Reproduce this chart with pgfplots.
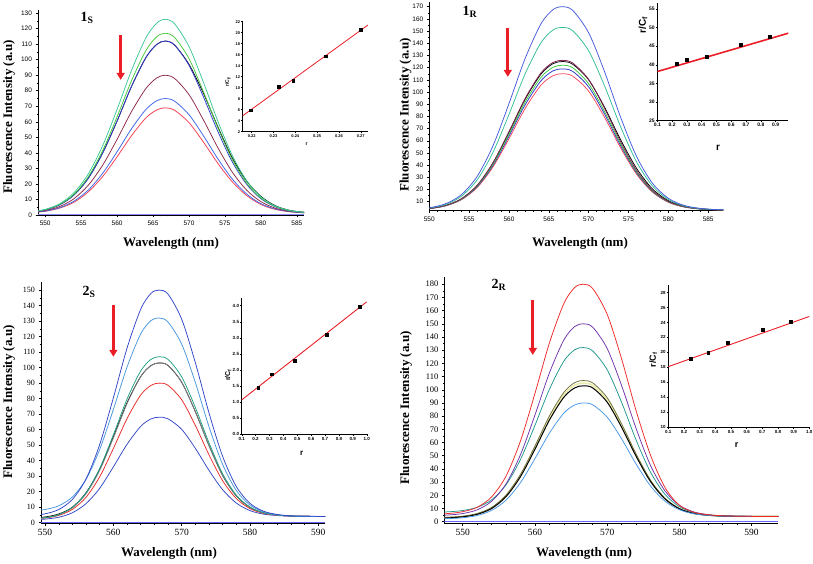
\documentclass[border=0pt]{standalone}
\usepackage{fontspec}
\setmainfont{Liberation Serif}
\setsansfont{Liberation Sans}
\usepackage{pgfplots}
\pgfplotsset{compat=1.18}
\usepackage{pgfplotstable}
\usetikzlibrary{arrows.meta}

% colours
\definecolor{sA}{RGB}{60,200,150}
\definecolor{sB}{RGB}{70,200,60}
\definecolor{sC}{RGB}{50,60,210}
\definecolor{sD}{RGB}{140,40,70}
\definecolor{sE}{RGB}{60,100,230}
\definecolor{sF}{RGB}{245,60,80}
\definecolor{rA}{RGB}{70,90,220}
\definecolor{rB}{RGB}{50,190,150}
\definecolor{rC}{RGB}{130,30,80}
\definecolor{rE}{RGB}{60,200,60}
\definecolor{rF}{RGB}{40,50,200}
\definecolor{rG}{RGB}{250,70,90}
\definecolor{tA}{RGB}{50,70,200}
\definecolor{tB}{RGB}{70,150,220}
\definecolor{tC}{RGB}{30,160,130}
\definecolor{tD}{RGB}{130,130,130}
\definecolor{tF}{RGB}{235,40,40}
\definecolor{uA}{RGB}{240,40,40}
\definecolor{uB}{RGB}{110,50,170}
\definecolor{uC}{RGB}{30,150,140}
\definecolor{uD}{RGB}{110,110,60}
\definecolor{uY}{RGB}{235,235,170}
\definecolor{uF}{RGB}{70,150,230}
\definecolor{fit}{RGB}{235,30,40}

% 1S spectra
\pgfplotstableread{
x A B K C D E F
548 2.0 1.9 1.9 1.9 1.7 1.6 1.5
550 3.6 3.4 3.3 3.3 2.9 2.5 2.4
552 7.2 6.8 6.6 6.5 5.4 4.7 4.4
554 14.3 13.3 12.9 12.8 10.5 8.9 8.2
556 26.5 24.7 23.8 23.6 19.2 16.1 14.9
558 44.7 41.5 40.1 39.8 32.1 26.9 24.8
560 68.0 63.2 60.5 60.5 48.7 40.7 37.5
562 93.0 86.4 82.7 82.7 66.5 55.5 51.0
564 114.0 105.8 101.3 101.3 81.4 67.9 62.5
565.5 123.5 114.7 109.8 109.8 88.2 73.5 67.6
566.7 126 117 112 112 90 75 69
568 123.1 114.3 109.4 109.4 87.9 73.3 67.4
570 108.5 100.7 97.0 96.4 77.5 64.6 59.5
572 85.6 79.5 78.5 76.2 61.3 51.1 47.0
574 60.6 56.3 57.0 54.0 43.5 36.3 33.4
576 38.6 35.9 37.0 34.4 27.8 23.3 21.5
578 22.3 20.7 22.0 19.9 16.1 13.6 12.6
580 11.7 10.9 12.0 10.5 8.6 7.3 6.8
582 5.8 5.5 6.0 5.3 4.4 3.9 3.6
584 3.0 2.8 3.0 2.7 2.4 2.2 2.1
586 1.7 1.7 1.8 1.6 1.5 1.4 1.4
588 1.2 1.2 1.2 1.2 1.2 1.1 1.1
}\tabOneS

% 1R spectra
\pgfplotstableread{
x A B C K E F G
548 3.7 3.6 3.5 3.5 3.5 3.5 3.5
550 5.0 4.8 4.4 4.4 4.4 4.4 4.3
552 8.2 7.6 6.8 6.8 6.7 6.6 6.5
554 15.6 14.3 12.3 12.2 12.0 11.8 11.5
556 30.7 27.9 23.4 23.2 22.7 22.2 21.6
558 56.0 50.6 42.1 41.8 40.8 39.8 38.6
560 90.5 81.6 67.5 66.9 65.4 63.8 61.7
562 127.1 114.5 94.4 93.7 91.4 89.2 86.2
564 155.8 140.3 115.6 114.6 111.9 109.1 105.5
565.5 167.5 150.8 124.2 123.2 120.2 117.3 113.3
566.7 170 153 126 125 122 119 115
568 167.0 150.3 123.8 122.8 119.9 116.9 113.0
570 148.6 133.8 110.3 110.0 106.8 104.2 100.7
572 116.6 105.0 86.6 87.5 83.9 81.9 79.2
574 79.5 71.7 59.3 61.0 57.5 56.1 54.3
576 47.3 42.8 35.7 37.5 34.6 33.8 32.7
578 25.2 23.0 19.4 20.5 18.8 18.4 17.9
580 12.8 11.8 10.2 10.8 9.9 9.8 9.5
582 6.9 6.5 5.9 6.2 5.8 5.7 5.6
584 4.5 4.3 4.1 4.2 4.0 4.0 4.0
586 3.5 3.5 3.4 3.4 3.4 3.4 3.3
588 3.2 3.2 3.1 3.1 3.1 3.1 3.1
}\tabOneR

% 2S (H*) and 2R (R*) spectra
\pgfplotstableread{
x H1 H2 H3 H4 H5 H6 H7 R1 R2 R4 RY R5
546 4.2 7.2 2.1 2.1 2.6 2.1 1.6 5.7 4.7 3.1 2.8 2.6
548 4.6 7.5 2.4 2.4 2.9 2.4 1.8 6.2 5.1 3.4 3.2 2.9
550 5.7 8.5 3.2 3.2 3.7 3.0 2.3 7.6 6.2 4.2 4.0 3.7
552 8.5 10.9 5.2 5.1 5.6 4.7 3.5 10.9 9.0 6.2 5.9 5.6
554 15.0 16.6 9.9 9.6 10.0 8.6 6.4 18.8 15.5 10.8 10.4 10.0
556 28.2 28.0 19.2 18.6 19.3 16.4 12.3 34.6 28.7 20.2 19.6 19.0
558 50.4 47.2 35.0 33.7 34.5 29.6 22.2 61.2 50.8 35.9 35.1 34.2
560 80.5 73.0 56.7 54.6 55.4 47.8 36.0 97.2 80.8 57.3 56.1 54.9
562 112.5 100.3 79.7 76.7 77.3 67.1 50.5 135.4 112.7 80.1 78.6 77.0
564 137.6 121.7 97.8 94.2 94.2 82.3 62.1 165.3 137.7 98.0 96.2 94.3
565.5 147.8 130.3 105.3 101.3 101.3 88.5 66.9 177.5 147.9 105.4 103.4 101.4
566.7 150 132 107 103 103 90 68 180 150 107 105 103
568 147.4 129.4 105.3 101.4 101.4 88.6 67.0 176.7 147.4 105.2 103.3 101.4
570 131.3 115.2 94.1 90.6 90.6 79.3 60.2 157.2 131.3 94.0 92.3 90.6
572 103.3 90.5 74.4 71.7 71.7 62.8 48.0 123.4 103.2 74.2 72.9 71.6
574 70.9 62.0 51.6 49.8 49.8 43.8 33.8 84.3 70.8 51.4 50.6 49.7
576 42.8 37.6 31.6 30.5 30.5 27.1 21.3 50.5 42.7 31.5 31.0 30.5
578 23.4 20.8 17.8 17.3 17.3 15.6 12.7 26.0 23.4 17.8 17.6 17.3
580 12.5 11.4 10.1 9.8 9.8 9.1 7.8 12.5 12.5 10.0 9.9 9.8
582 7.4 7.0 6.4 6.3 6.3 6.0 5.5 7.2 7.4 6.4 6.4 6.3
584 5.3 5.1 4.9 4.9 4.9 4.8 4.6 5.3 5.3 4.9 4.9 4.9
586 4.4 4.4 4.3 4.3 4.3 4.3 4.2 4.5 4.4 4.3 4.3 4.3
588 4.2 4.1 4.1 4.1 4.1 4.1 4.1 4.2 4.2 4.1 4.1 4.1
591 4 4 4 4 4 4 4 4 4 4 4 4
594 4 4 4 4 4 4 4 4 4 4 4 4
}\tabTwo

\pgfplotsset{
  spec/.style={scale only axis, axis x line*=bottom, axis y line*=left,
    tick align=outside, major tick length=2.5pt, minor tick length=1.5pt,
    every tick/.style={black, line width=0.5pt}, axis line style={line width=0.7pt},
    /pgf/number format/assume math mode=true,
    every axis plot/.append style={line width=0.75pt, smooth}},
  inset/.style={scale only axis, axis x line*=bottom, axis y line*=left,
    tick align=outside, major tick length=1.5pt, axis line style={line width=0.6pt},
    every tick/.style={black, line width=0.4pt},
    /pgf/number format/assume math mode=true,
    ticklabel style={font=\fontsize{4}{4}\selectfont\sffamily\bfseries, inner sep=1pt}},
}
\tikzset{arr/.style={fit, line width=2.6pt, -{Triangle[width=8pt,length=7pt]}}}
\newcommand{\ttl}{\fontsize{13}{13}\selectfont\bfseries}
\newcommand{\plab}{\fontsize{14}{14}\selectfont\bfseries}

\begin{document}
\begin{tikzpicture}
\path[use as bounding box] (0pt,0pt) rectangle (813pt,564pt);

% ---------- 1S ----------
\begin{axis}[spec, at={(38pt,349pt)}, width=266pt, height=205pt,
  xmin=549, xmax=586, ymin=0, ymax=132,
  xtick={550,555,...,585}, minor x tick num=4,
  ytick={0,10,...,130}, minor y tick num=1,
  ticklabel style={font=\fontsize{6.5}{6.5}\selectfont\sffamily}]
\addplot[blue!45, line width=0.6pt] coordinates {(549,0.3) (586,0.3)};
\addplot[black] table[x=x,y=K]{\tabOneS};
\addplot[sF] table[x=x,y=F]{\tabOneS};
\addplot[sE] table[x=x,y=E]{\tabOneS};
\addplot[sD] table[x=x,y=D]{\tabOneS};
\addplot[sC] table[x=x,y=C]{\tabOneS};
\addplot[sB] table[x=x,y=B]{\tabOneS};
\addplot[sA] table[x=x,y=A]{\tabOneS};
\draw[arr] (axis cs:560.5,116) -- (axis cs:560.5,87);
\end{axis}
\begin{axis}[inset, at={(242.7pt,432.3pt)}, width=125.3pt, height=110pt,
  xmin=0.2159, xmax=0.2733, ymin=2, ymax=22,
  xtick={0.22,0.23,...,0.27}, ytick={2,4,...,22},
  xticklabel style={/pgf/number format/.cd, fixed, fixed zerofill, precision=2}]
\addplot[fit, line width=0.8pt] coordinates {(0.2159,4.9) (0.2733,21.4)};
\addplot[only marks, mark=square*, mark size=1.3pt, black] coordinates {
(0.2195,5.9) (0.2325,10.2) (0.239,11.3) (0.254,15.7) (0.27,20.5)};
\end{axis}
\node[rotate=90] at (9pt,447pt) {\ttl Fluorescence Intensity (a.u)};
\node at (171pt,321pt) {\ttl Wavelength (nm)};
\node at (87pt,546pt) {\plab 1\textsubscript{S}};
\node[rotate=90] at (228pt,482pt) {\fontsize{5}{5}\selectfont\sffamily\bfseries r/C\textsubscript{f}};
\node at (306.7pt,420pt) {\fontsize{5}{5}\selectfont\sffamily\bfseries r};

% ---------- 1R ----------
\begin{axis}[spec, at={(429.3pt,353.3pt)}, width=294pt, height=208.7pt,
  xmin=550, xmax=586.9, ymin=2.6, ymax=173.9,
  xtick={550,555,...,585}, minor x tick num=4,
  ytick={10,20,...,170}, minor y tick num=1,
  ticklabel style={font=\fontsize{6.5}{6.5}\selectfont\sffamily}]
\addplot[black] table[x=x,y=K]{\tabOneR};
\addplot[rG] table[x=x,y=G]{\tabOneR};
\addplot[rF] table[x=x,y=F]{\tabOneR};
\addplot[rE] table[x=x,y=E]{\tabOneR};
\addplot[rC] table[x=x,y=C]{\tabOneR};
\addplot[rB] table[x=x,y=B]{\tabOneR};
\addplot[rA] table[x=x,y=A]{\tabOneR};
\draw[arr] (axis cs:559.85,152.3) -- (axis cs:559.85,112.5);
\end{axis}
\begin{axis}[inset, at={(657.3pt,443.3pt)}, width=131pt, height=118pt,
  xmin=0.1, xmax=0.986, ymin=25, ymax=56.7,
  xtick={0.1,0.2,...,0.9}, ytick={25,30,...,55},
  ticklabel style={font=\fontsize{5}{5}\selectfont\sffamily\bfseries},
  xticklabel style={/pgf/number format/.cd, fixed, fixed zerofill, precision=1}]
\addplot[fit, line width=1.6pt] coordinates {(0.1,38.2) (0.986,48.5)};
\addplot[only marks, mark=square*, mark size=1.5pt, black] coordinates {
(0.23,40.4) (0.30,41.5) (0.435,42.2) (0.665,45.4) (0.86,47.6)};
\end{axis}
\node[rotate=90] at (405.5pt,449pt) {\ttl Fluorescence Intensity (a.u)};
\node at (580pt,321pt) {\ttl Wavelength (nm)};
\node at (470pt,552pt) {\plab 1\textsubscript{R}};
\node[rotate=90] at (643pt,539pt) {\fontsize{10}{10}\selectfont\sffamily\bfseries r/C\textsubscript{f}};
\node at (718pt,416pt) {\fontsize{10}{10}\selectfont\sffamily\bfseries r};

% ---------- 2S ----------
\begin{axis}[spec, at={(41pt,40.7pt)}, width=284pt, height=241.6pt,
  xmin=549.4, xmax=591, ymin=-0.4, ymax=155.4,
  xtick={550,560,...,590}, minor x tick num=4,
  ytick={0,10,...,150}, minor y tick num=1,
  xticklabel style={font=\fontsize{9.5}{9.5}\selectfont},
  yticklabel style={font=\fontsize{8}{8}\selectfont}]
\addplot[blue!60, line width=0.6pt] coordinates {(549.4,0.2) (591,0.2)};
\addplot[black] table[x=x,y=H5]{\tabTwo};
\addplot[tA] table[x=x,y=H7]{\tabTwo};
\addplot[tF] table[x=x,y=H6]{\tabTwo};
\addplot[tD] table[x=x,y=H4]{\tabTwo};
\addplot[tC] table[x=x,y=H3]{\tabTwo};
\addplot[tB] table[x=x,y=H2]{\tabTwo};
\addplot[tA] table[x=x,y=H1]{\tabTwo};
\draw[arr] (axis cs:560,140.4) -- (axis cs:560,107);
\end{axis}
\begin{axis}[inset, at={(241.7pt,129.7pt)}, width=125pt, height=136pt,
  xmin=0.1, xmax=1.0, ymin=0, ymax=4.23,
  xtick={0.1,0.2,...,1.0}, ytick={0,0.5,...,4.0},
  ticklabel style={font=\fontsize{4.5}{4.5}\selectfont\sffamily\bfseries},
  xticklabel style={/pgf/number format/.cd, fixed, fixed zerofill, precision=1},
  yticklabel style={/pgf/number format/.cd, fixed, fixed zerofill, precision=1}]
\addplot[fit, line width=0.9pt] coordinates {(0.1,1.07) (1.0,4.12)};
\addplot[only marks, mark=square*, mark size=1.4pt, black] coordinates {
(0.219,1.45) (0.317,1.87) (0.481,2.29) (0.714,3.11) (0.948,3.97)};
\end{axis}
\node[rotate=90] at (9pt,162pt) {\ttl Fluorescence Intensity (a.u)};
\node at (169pt,11pt) {\ttl Wavelength (nm)};
\node at (89pt,272pt) {\plab 2\textsubscript{S}};
\node[rotate=90] at (228.3pt,189pt) {\fontsize{7}{7}\selectfont\sffamily\bfseries r/C\textsubscript{f}};
\node at (301.7pt,110.7pt) {\fontsize{8}{8}\selectfont\sffamily\bfseries r};

% ---------- 2R ----------
\begin{axis}[spec, at={(444.3pt,40.7pt)}, width=334pt, height=246.6pt,
  xmin=547.45, xmax=593.7, ymin=-1.2, ymax=185.7,
  xtick={550,560,...,590}, minor x tick num=4,
  ytick={0,10,...,180}, minor y tick num=1,
  xticklabel style={font=\fontsize{9.5}{9.5}\selectfont},
  yticklabel style={font=\fontsize{8.5}{8.5}\selectfont}]
\addplot[blue!60, line width=0.6pt] coordinates {(547.45,0) (593.7,0)};
\addplot[uY, line width=1.6pt] table[x=x,y=RY]{\tabTwo};
\addplot[uD] table[x=x,y=R4]{\tabTwo};
\addplot[black, line width=1pt] table[x=x,y=R5]{\tabTwo};
\addplot[uF] table[x=x,y=H6]{\tabTwo};
\addplot[uC] table[x=x,y=H2]{\tabTwo};
\addplot[uB] table[x=x,y=R2]{\tabTwo};
\addplot[uA] table[x=x,y=R1]{\tabTwo};
\draw[arr] (axis cs:559.7,168) -- (axis cs:559.7,126.4);
\end{axis}
\begin{axis}[inset, at={(668.3pt,136.7pt)}, width=141pt, height=142.3pt,
  xmin=0.1, xmax=1.0, ymin=10, ymax=29,
  xtick={0.1,0.2,...,1.0}, ytick={10,12,...,28},
  ticklabel style={font=\fontsize{4.5}{4.5}\selectfont\sffamily\bfseries},
  xticklabel style={/pgf/number format/.cd, fixed, fixed zerofill, precision=1}]
\addplot[fit, line width=0.9pt] coordinates {(0.1,18.1) (1.0,24.8)};
\addplot[only marks, mark=square*, mark size=1.4pt, black] coordinates {
(0.243,19.2) (0.355,20.0) (0.479,21.3) (0.702,23.0) (0.883,24.1)};
\end{axis}
\node[rotate=90] at (406pt,156pt) {\ttl Fluorescence Intensity (a.u)};
\node at (584pt,11pt) {\ttl Wavelength (nm)};
\node at (499pt,279pt) {\plab 2\textsubscript{R}};
\node[rotate=90] at (653.3pt,204pt) {\fontsize{9}{9}\selectfont\sffamily\bfseries r/C\textsubscript{f}};
\node at (736.7pt,119pt) {\fontsize{9}{9}\selectfont\sffamily\bfseries r};
\end{tikzpicture}
\end{document}
